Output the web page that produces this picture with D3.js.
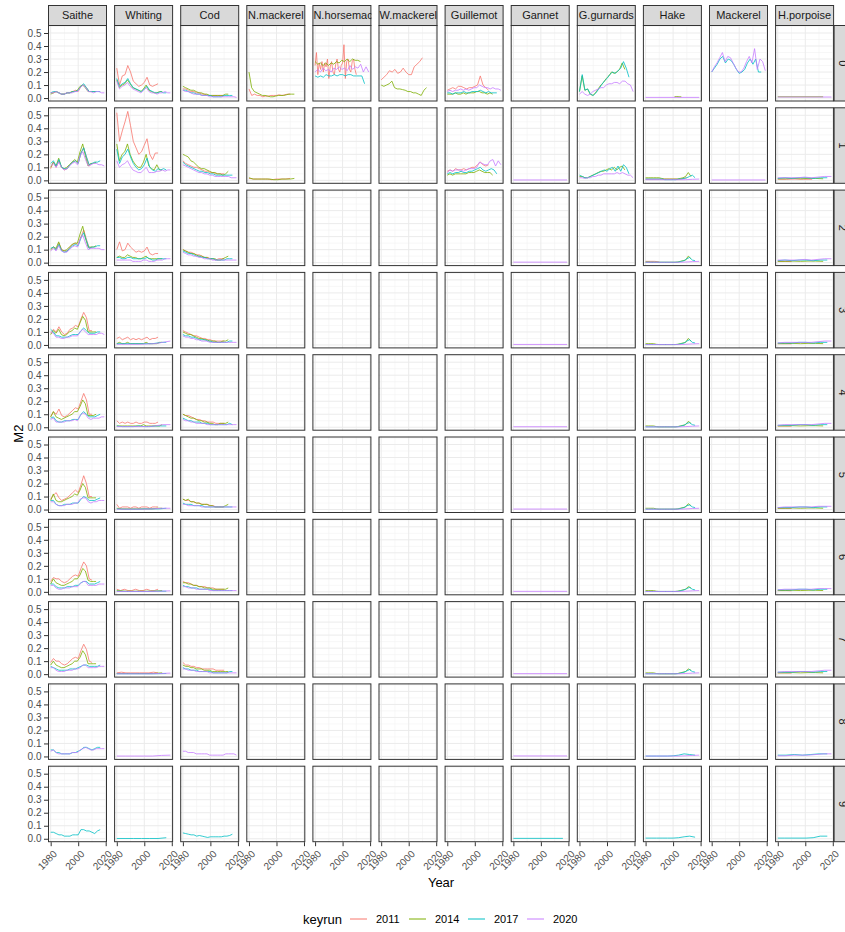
<!DOCTYPE html>
<html>
<head>
<meta charset="utf-8">
<script src="https://cdn.jsdelivr.net/npm/d3@7"></script>
<style>
  body { margin: 0; background: #fff; }
  svg { display: block; font-family: "Liberation Sans", Arial, sans-serif; }
</style>
</head>
<body>
<div id="chart"></div>
<script>
// Facet layout: predators across, prey ages down
const predators = ["Saithe", "Whiting", "Cod", "N.mackerel", "N.horsemackerel", "W.mackerel",
  "Guillemot", "Gannet", "G.gurnards", "Hake", "Mackerel", "H.porpoise"];
const ages = ["0", "1", "2", "3", "4", "5", "6", "7", "8", "9"];
const keyruns = ["2011", "2014", "2017", "2020"];
const runColors = ["#F8766D", "#7CAE00", "#00BFC4", "#C77CFF"];
const runLastYear = { 2011: 2010, 2014: 2013, 2017: 2016, 2020: 2019 };
const xTicks = [1980, 2000, 2020];
const xMinor = [1990, 2010];
const yTicks = [0, 0.1, 0.2, 0.3, 0.4, 0.5];
const yMinor = [0.05, 0.15, 0.25, 0.35, 0.45, 0.55];

// M2 series: [age, keyrun, values (evenly spaced from first to last year), first year?, last year?]
const saitheM2 = [
  [0, 2011, [0.04,0.04,0.05,0.04,0.03,0.03,0.04,0.04,0.05,0.06,0.05,0.09,0.10,0.08,0.05,0.05]],
  [0, 2014, [0.03,0.04,0.05,0.04,0.03,0.03,0.04,0.04,0.05,0.05,0.06,0.09,0.10,0.08,0.05,0.05,0.05,0.05]],
  [0, 2017, [0.04,0.05,0.05,0.04,0.03,0.03,0.04,0.04,0.05,0.05,0.06,0.09,0.11,0.08,0.05,0.05,0.05,0.05,0.05]],
  [0, 2020, [0.04,0.04,0.05,0.04,0.03,0.03,0.04,0.04,0.04,0.05,0.05,0.08,0.10,0.08,0.05,0.05,0.04,0.05,0.05,0.04,0.04]],
  [1, 2011, [0.09,0.14,0.10,0.15,0.10,0.08,0.09,0.12,0.14,0.15,0.13,0.21,0.25,0.18,0.11,0.13]],
  [1, 2014, [0.10,0.14,0.11,0.17,0.10,0.09,0.10,0.12,0.14,0.16,0.14,0.22,0.28,0.19,0.11,0.13,0.13,0.14]],
  [1, 2017, [0.13,0.15,0.11,0.16,0.10,0.09,0.09,0.12,0.14,0.15,0.13,0.21,0.25,0.18,0.12,0.13,0.14,0.14,0.15]],
  [1, 2020, [0.11,0.13,0.10,0.14,0.10,0.08,0.09,0.11,0.13,0.14,0.12,0.19,0.22,0.16,0.11,0.12,0.13,0.13,0.12,0.12,0.11]],
  [2, 2011, [0.10,0.12,0.10,0.15,0.10,0.09,0.09,0.12,0.14,0.15,0.14,0.20,0.25,0.18,0.11,0.12]],
  [2, 2014, [0.10,0.12,0.11,0.16,0.10,0.09,0.10,0.12,0.14,0.15,0.15,0.22,0.28,0.19,0.12,0.12,0.12,0.13]],
  [2, 2017, [0.11,0.12,0.10,0.14,0.09,0.08,0.09,0.11,0.13,0.14,0.13,0.19,0.23,0.17,0.11,0.12,0.12,0.13,0.13]],
  [2, 2020, [0.09,0.11,0.09,0.13,0.09,0.08,0.08,0.10,0.12,0.13,0.12,0.18,0.21,0.15,0.10,0.11,0.11,0.11,0.11,0.10,0.10]],
  [3, 2011, [0.09,0.12,0.10,0.14,0.10,0.08,0.09,0.12,0.13,0.15,0.14,0.20,0.25,0.21,0.11,0.11]],
  [3, 2014, [0.08,0.11,0.09,0.12,0.08,0.07,0.08,0.10,0.11,0.13,0.12,0.17,0.22,0.19,0.10,0.10,0.10,0.10]],
  [3, 2017, [0.12,0.10,0.07,0.07,0.06,0.06,0.06,0.07,0.08,0.08,0.08,0.11,0.13,0.11,0.09,0.09,0.09,0.10,0.10]],
  [3, 2020, [0.10,0.09,0.06,0.06,0.05,0.05,0.06,0.06,0.07,0.07,0.07,0.10,0.12,0.10,0.08,0.08,0.08,0.08,0.09,0.09,0.08]],
  [4, 2011, [0.08,0.12,0.10,0.14,0.09,0.08,0.09,0.11,0.13,0.15,0.14,0.20,0.26,0.21,0.10,0.10]],
  [4, 2014, [0.08,0.12,0.08,0.07,0.06,0.07,0.08,0.09,0.10,0.12,0.12,0.16,0.21,0.18,0.09,0.09,0.09,0.10]],
  [4, 2017, [0.07,0.08,0.05,0.04,0.04,0.05,0.05,0.05,0.06,0.06,0.06,0.10,0.12,0.10,0.08,0.08,0.08,0.09,0.10]],
  [4, 2020, [0.06,0.07,0.04,0.04,0.04,0.04,0.05,0.05,0.05,0.06,0.05,0.09,0.11,0.10,0.07,0.06,0.07,0.07,0.07,0.08,0.08]],
  [5, 2011, [0.08,0.11,0.13,0.09,0.07,0.08,0.09,0.11,0.13,0.15,0.13,0.19,0.26,0.20,0.10,0.10]],
  [5, 2014, [0.07,0.12,0.07,0.06,0.06,0.07,0.08,0.09,0.10,0.12,0.11,0.15,0.20,0.17,0.09,0.09,0.09,0.09]],
  [5, 2017, [0.07,0.07,0.04,0.03,0.03,0.04,0.04,0.04,0.05,0.05,0.05,0.08,0.10,0.09,0.07,0.07,0.07,0.08,0.09]],
  [5, 2020, [0.06,0.06,0.04,0.03,0.03,0.03,0.04,0.04,0.04,0.05,0.05,0.08,0.09,0.09,0.06,0.05,0.06,0.06,0.07,0.07,0.07]],
  [6, 2011, [0.08,0.11,0.10,0.10,0.08,0.07,0.08,0.10,0.12,0.13,0.12,0.18,0.23,0.20,0.10,0.09]],
  [6, 2014, [0.06,0.10,0.07,0.06,0.05,0.05,0.06,0.07,0.08,0.10,0.10,0.13,0.18,0.16,0.09,0.08,0.08,0.08]],
  [6, 2017, [0.06,0.06,0.04,0.03,0.03,0.03,0.04,0.04,0.04,0.05,0.05,0.07,0.08,0.08,0.06,0.06,0.06,0.07,0.08]],
  [6, 2020, [0.05,0.05,0.03,0.02,0.02,0.03,0.03,0.03,0.04,0.04,0.04,0.06,0.08,0.08,0.05,0.05,0.05,0.05,0.06,0.06,0.06]],
  [7, 2011, [0.09,0.12,0.10,0.10,0.08,0.07,0.08,0.10,0.12,0.13,0.12,0.18,0.23,0.19,0.10,0.09]],
  [7, 2014, [0.07,0.10,0.07,0.06,0.05,0.05,0.06,0.07,0.08,0.10,0.10,0.13,0.18,0.15,0.08,0.08,0.08,0.08]],
  [7, 2017, [0.06,0.05,0.04,0.03,0.03,0.03,0.03,0.04,0.04,0.04,0.05,0.06,0.07,0.07,0.06,0.06,0.06,0.06,0.07]],
  [7, 2020, [0.05,0.05,0.03,0.02,0.02,0.02,0.03,0.03,0.03,0.04,0.04,0.05,0.07,0.07,0.05,0.05,0.05,0.05,0.06,0.06,0.06]],
  [8, 2017, [0.05,0.05,0.03,0.03,0.02,0.02,0.02,0.02,0.03,0.03,0.04,0.05,0.07,0.07,0.06,0.05,0.06,0.07,0.07]],
  [8, 2020, [0.04,0.05,0.03,0.02,0.02,0.02,0.02,0.02,0.03,0.03,0.03,0.05,0.06,0.07,0.06,0.05,0.05,0.06,0.06,0.06,0.06]],
  [9, 2017, [0.05,0.05,0.04,0.03,0.03,0.02,0.02,0.02,0.03,0.03,0.03,0.07,0.07,0.06,0.06,0.05,0.04,0.06,0.07]]
];

const whitingM2 = [
  [0, 2011, [0.23,0.10,0.17,0.18,0.25,0.20,0.13,0.11,0.09,0.10,0.12,0.16,0.10,0.09,0.10,0.11]],
  [0, 2014, [0.14,0.08,0.10,0.11,0.14,0.11,0.08,0.07,0.06,0.05,0.07,0.10,0.06,0.05,0.04,0.04,0.05,0.05]],
  [0, 2017, [0.15,0.09,0.11,0.12,0.15,0.11,0.08,0.07,0.06,0.05,0.07,0.09,0.06,0.05,0.04,0.04,0.05,0.04,0.04]],
  [0, 2020, [0.13,0.07,0.09,0.10,0.12,0.09,0.07,0.06,0.05,0.04,0.06,0.08,0.05,0.04,0.04,0.03,0.04,0.04,0.05,0.04,0.04]],
  [1, 2011, [0.52,0.30,0.38,0.45,0.53,0.42,0.30,0.25,0.20,0.22,0.27,0.32,0.20,0.16,0.21,0.21]],
  [1, 2014, [0.28,0.15,0.20,0.22,0.28,0.20,0.15,0.12,0.10,0.10,0.14,0.20,0.11,0.09,0.08,0.12,0.08,0.08]],
  [1, 2017, [0.24,0.13,0.18,0.20,0.24,0.18,0.13,0.10,0.08,0.09,0.12,0.17,0.10,0.08,0.07,0.09,0.08,0.09,0.08]],
  [1, 2020, [0.15,0.10,0.12,0.13,0.15,0.11,0.08,0.07,0.06,0.06,0.08,0.10,0.06,0.06,0.06,0.07,0.07,0.08,0.07,0.08,0.08]],
  [2, 2011, [0.10,0.16,0.09,0.10,0.15,0.12,0.10,0.08,0.09,0.08,0.09,0.12,0.07,0.06,0.07,0.07]],
  [2, 2014, [0.04,0.05,0.04,0.04,0.06,0.05,0.04,0.04,0.03,0.03,0.04,0.05,0.03,0.03,0.03,0.03,0.03,0.03]],
  [2, 2017, [0.04,0.04,0.03,0.03,0.04,0.04,0.03,0.03,0.03,0.03,0.03,0.04,0.03,0.02,0.02,0.03,0.03,0.03,0.03]],
  [2, 2020, [0.02,0.02,0.02,0.02,0.02,0.02,0.01,0.01,0.01,0.01,0.02,0.02,0.01,0.01,0.01,0.02,0.02,0.02,0.03,0.03,0.03]],
  [3, 2011, [0.05,0.06,0.04,0.05,0.06,0.04,0.05,0.04,0.05,0.04,0.05,0.06,0.04,0.05,0.05,0.06]],
  [3, 2014, [0.01,0.02,0.01,0.01,0.02,0.01,0.01,0.01,0.01,0.01,0.01,0.02,0.01,0.01,0.01,0.01,0.02,0.02]],
  [3, 2017, [0.01,0.01,0.01,0.01,0.01,0.01,0.01,0.01,0.01,0.015,0.02,0.02]],
  [3, 2020, [0.005,0.005,0.005,0.005,0.008,0.01,0.02,0.03]],
  [4, 2011, [0.05,0.03,0.04,0.03,0.04,0.03,0.03,0.04,0.03,0.03,0.04,0.04,0.03,0.03,0.03,0.04]],
  [4, 2014, [0.01,0.01,0.01,0.01,0.01,0.01,0.01,0.01,0.01,0.01,0.02,0.01,0.01,0.01,0.01,0.01,0.01,0.02]],
  [4, 2017, [0.01,0.005,0.005,0.005,0.01,0.005,0.005,0.01,0.01,0.01]],
  [4, 2020, [0.005,0.005,0.005,0.005,0.005,0.01,0.02,0.02]],
  [5, 2011, [0.04,0.01,0.02,0.02,0.02,0.01,0.02,0.02,0.01,0.02,0.02,0.02,0.01,0.02,0.02,0.02]],
  [5, 2014, [0.01,0.005,0.005,0.005,0.005,0.005,0.005,0.005,0.01,0.01]],
  [5, 2017, [0.005,0.003,0.003,0.003,0.005,0.005,0.005,0.01]],
  [5, 2020, [0.003,0.003,0.003,0.003,0.005,0.01,0.01]],
  [6, 2011, [0.02,0.01,0.02,0.01,0.01,0.02,0.01,0.01,0.02,0.01,0.01,0.02]],
  [6, 2014, [0.01,0.005,0.005,0.005,0.005,0.01]],
  [6, 2017, [0.005,0.003,0.003,0.003,0.005,0.005]],
  [6, 2020, [0.003,0.003,0.003,0.003,0.005,0.008]],
  [7, 2011, [0.01,0.015,0.01,0.01,0.01,0.01,0.01,0.01,0.015,0.01]],
  [7, 2014, [0.005,0.005,0.005,0.005,0.005,0.01]],
  [7, 2017, [0.003,0.003,0.003,0.003,0.005]],
  [7, 2020, [0.003,0.003,0.003,0.003,0.005,0.008]],
  [8, 2020, [0.003,0.003,0.003,0.003,0.003,0.008,0.01]],
  [9, 2017, [0.002,0.002,0.002,0.002,0.002,0.002,0.008]]
];

const codM2 = [
  [0, 2011, [0.07,0.07,0.06,0.05,0.05,0.04,0.04,0.03,0.03,0.02,0.02,0.02,0.02,0.02,0.02,0.02]],
  [0, 2014, [0.09,0.08,0.07,0.06,0.06,0.05,0.04,0.04,0.03,0.03,0.02,0.02,0.02,0.02,0.02,0.02,0.03,0.03]],
  [0, 2017, [0.06,0.06,0.05,0.04,0.04,0.03,0.03,0.02,0.02,0.02,0.02,0.01,0.01,0.01,0.01,0.02,0.02,0.02,0.02]],
  [0, 2020, [0.06,0.05,0.05,0.04,0.03,0.03,0.03,0.02,0.02,0.02,0.01,0.01,0.01,0.01,0.01,0.01,0.01,0.01,0.01,0.01,0.005]],
  [1, 2011, [0.15,0.13,0.12,0.11,0.10,0.10,0.09,0.08,0.07,0.07,0.06,0.06,0.05,0.05,0.05,0.05]],
  [1, 2014, [0.20,0.19,0.18,0.15,0.14,0.12,0.10,0.09,0.09,0.08,0.07,0.06,0.06,0.05,0.05,0.04,0.05,0.07]],
  [1, 2017, [0.14,0.12,0.11,0.10,0.09,0.08,0.07,0.07,0.06,0.06,0.05,0.05,0.04,0.04,0.04,0.04,0.04,0.04,0.04]],
  [1, 2020, [0.12,0.11,0.10,0.09,0.08,0.07,0.06,0.06,0.05,0.05,0.04,0.04,0.03,0.03,0.03,0.03,0.03,0.03,0.02,0.02,0.02]],
  [2, 2011, [0.10,0.09,0.08,0.08,0.07,0.06,0.06,0.05,0.04,0.04,0.03,0.03,0.02,0.03,0.03,0.03]],
  [2, 2014, [0.10,0.09,0.08,0.07,0.07,0.06,0.05,0.05,0.04,0.04,0.03,0.03,0.03,0.02,0.02,0.03,0.04,0.05]],
  [2, 2017, [0.09,0.08,0.07,0.07,0.06,0.05,0.05,0.04,0.04,0.03,0.03,0.03,0.02,0.02,0.02,0.02,0.03,0.03,0.03]],
  [2, 2020, [0.08,0.07,0.06,0.06,0.05,0.05,0.04,0.04,0.03,0.03,0.03,0.02,0.02,0.02,0.02,0.02,0.02,0.02,0.02,0.02,0.02]],
  [3, 2011, [0.11,0.10,0.09,0.08,0.07,0.07,0.06,0.05,0.05,0.04,0.04,0.03,0.03,0.03,0.03,0.03]],
  [3, 2014, [0.10,0.09,0.08,0.08,0.07,0.06,0.05,0.05,0.04,0.04,0.03,0.03,0.03,0.02,0.02,0.03,0.03,0.04]],
  [3, 2017, [0.08,0.07,0.07,0.06,0.06,0.05,0.04,0.04,0.04,0.03,0.03,0.02,0.02,0.02,0.02,0.02,0.02,0.03,0.03]],
  [3, 2020, [0.07,0.06,0.06,0.05,0.05,0.04,0.04,0.03,0.03,0.03,0.02,0.02,0.02,0.02,0.02,0.02,0.02,0.02,0.02,0.02,0.02]],
  [4, 2011, [0.10,0.09,0.09,0.08,0.07,0.06,0.06,0.05,0.05,0.04,0.04,0.04,0.03,0.03,0.03,0.03]],
  [4, 2014, [0.10,0.09,0.08,0.07,0.07,0.06,0.05,0.05,0.04,0.04,0.03,0.03,0.02,0.02,0.03,0.03,0.03,0.04]],
  [4, 2017, [0.07,0.06,0.05,0.05,0.04,0.04,0.04,0.03,0.03,0.03,0.02,0.02,0.02,0.02,0.02,0.02,0.02,0.03,0.02]],
  [4, 2020, [0.06,0.05,0.05,0.04,0.04,0.03,0.03,0.03,0.03,0.02,0.02,0.02,0.02,0.02,0.02,0.02,0.02,0.02,0.02,0.02,0.02]],
  [5, 2011, [0.08,0.07,0.07,0.06,0.06,0.05,0.05,0.04,0.04,0.04,0.03,0.03,0.02,0.02,0.02,0.02]],
  [5, 2014, [0.08,0.07,0.08,0.06,0.06,0.05,0.05,0.04,0.04,0.04,0.03,0.03,0.02,0.02,0.02,0.02,0.03,0.04]],
  [5, 2017, [0.05,0.04,0.04,0.04,0.03,0.03,0.03,0.03,0.02,0.02,0.02,0.02,0.02,0.02,0.02,0.02,0.02,0.02,0.02]],
  [5, 2020, [0.04,0.04,0.03,0.03,0.03,0.03,0.03,0.02,0.02,0.02,0.02,0.02,0.02,0.02,0.02,0.02,0.02,0.02,0.02,0.02,0.02]],
  [6, 2011, [0.08,0.07,0.07,0.06,0.05,0.05,0.04,0.04,0.04,0.03,0.03,0.03,0.02,0.02,0.02,0.02]],
  [6, 2014, [0.07,0.07,0.06,0.06,0.05,0.05,0.04,0.04,0.03,0.03,0.03,0.02,0.02,0.02,0.02,0.02,0.02,0.03]],
  [6, 2017, [0.05,0.04,0.04,0.03,0.03,0.03,0.02,0.02,0.02,0.02,0.02,0.01,0.01,0.01,0.01,0.01,0.01,0.01,0.01]],
  [6, 2020, [0.04,0.04,0.03,0.03,0.03,0.02,0.02,0.02,0.02,0.02,0.01,0.01,0.01,0.01,0.01,0.01,0.01,0.01,0.01,0.01,0.01]],
  [7, 2011, [0.09,0.07,0.07,0.06,0.06,0.05,0.05,0.04,0.04,0.04,0.04,0.04,0.03,0.03,0.03,0.03]],
  [7, 2014, [0.07,0.06,0.06,0.05,0.05,0.04,0.04,0.04,0.03,0.03,0.03,0.02,0.02,0.02,0.02,0.02,0.02,0.02]],
  [7, 2017, [0.05,0.04,0.04,0.03,0.03,0.03,0.02,0.02,0.02,0.02,0.02,0.01,0.01,0.01,0.01,0.01,0.01,0.02,0.02]],
  [7, 2020, [0.04,0.04,0.03,0.03,0.03,0.02,0.02,0.02,0.02,0.02,0.01,0.01,0.01,0.01,0.01,0.01,0.01,0.01,0.01,0.01,0.01]],
  [8, 2020, [0.04,0.04,0.03,0.03,0.03,0.02,0.02,0.02,0.02,0.02,0.01,0.01,0.01,0.01,0.01,0.01,0.02,0.02,0.02,0.02,0.01]],
  [9, 2017, [0.045,0.04,0.035,0.03,0.03,0.02,0.025,0.02,0.015,0.01,0.015,0.015,0.015,0.015,0.015,0.02,0.02,0.025,0.035]]
];

const nMackerelM2 = [
  [0, 2011, [0.07,0.02,0.03,0.02,0.02,0.01,0.015,0.015,0.02,0.02,0.02,0.025,0.02,0.025,0.03,0.03]],
  [0, 2014, [0.20,0.08,0.05,0.04,0.03,0.02,0.02,0.015,0.01,0.01,0.015,0.02,0.02,0.02,0.025,0.03,0.03,0.03]],
  [1, 2011, [0.015,0.01,0.01,0.01,0.01,0.005,0.01,0.01,0.01,0.015]],
  [1, 2014, [0.02,0.01,0.01,0.01,0.01,0.01,0.005,0.005,0.01,0.01,0.01,0.015]]
];

const nHorseMackerelM2 = [
  [0, 2011, [0.25,0.35,0.18,0.27,0.22,0.28,0.20,0.27,0.24,0.30,0.15,0.24,0.28,0.20,0.18,0.26,
             0.30,0.22,0.20,0.25,0.27,0.41,0.15,0.28,0.30,0.22,0.20,0.28,0.30,0.22,0.18]],
  [0, 2014, [0.28,0.26,0.27,0.25,0.27,0.25,0.27,0.26,0.28,0.27,0.29,0.28,0.30,0.28,0.30,0.29,0.29,0.28]],
  [0, 2017, [0.17,0.16,0.17,0.16,0.18,0.17,0.17,0.18,0.17,0.18,0.18,0.17,0.18,0.18,0.17,0.17,0.17,0.17,0.11]],
  [0, 2020, [0.20,0.22,0.20,0.23,0.21,0.22,0.20,0.23,0.22,0.24,0.22,0.23,0.21,0.25,0.22,0.24,0.23,0.26,0.20,0.24,0.20]]
];

const wMackerelM2 = [
  [0, 2011, [0.14,0.16,0.18,0.21,0.20,0.22,0.19,0.20,0.23,0.20,0.18,0.18,0.24,0.26,0.28,0.31]],
  [0, 2014, [0.10,0.09,0.10,0.11,0.13,0.08,0.07,0.07,0.065,0.06,0.05,0.05,0.04,0.04,0.03,0.02,0.06,0.08]]
];

const guillemotM2 = [
  [0, 2011, [0.06,0.07,0.08,0.07,0.09,0.09,0.08,0.07,0.08,0.08,0.09,0.10,0.17,0.10,0.08,0.06]],
  [0, 2014, [0.03,0.03,0.03,0.04,0.03,0.03,0.04,0.03,0.04,0.04,0.04,0.05,0.05,0.04,0.04,0.03,0.04,0.03]],
  [0, 2017, [0.04,0.04,0.03,0.04,0.04,0.04,0.05,0.04,0.04,0.05,0.05,0.05,0.06,0.05,0.04,0.05,0.04,0.04,0.04]],
  [0, 2020, [0.05,0.06,0.05,0.06,0.06,0.07,0.06,0.07,0.06,0.07,0.08,0.08,0.10,0.09,0.08,0.08,0.07,0.08,0.07,0.07,0.06]],
  [1, 2011, [0.07,0.08,0.07,0.09,0.08,0.08,0.09,0.08,0.09,0.10,0.10,0.12,0.14,0.12,0.11,0.12]],
  [1, 2014, [0.04,0.05,0.04,0.05,0.05,0.05,0.05,0.05,0.06,0.06,0.06,0.07,0.08,0.07,0.06,0.06,0.06,0.04]],
  [1, 2017, [0.05,0.06,0.05,0.06,0.06,0.07,0.06,0.06,0.07,0.07,0.08,0.09,0.10,0.08,0.07,0.08,0.09,0.08,0.05]],
  [1, 2020, [0.06,0.08,0.07,0.08,0.08,0.08,0.07,0.08,0.09,0.09,0.09,0.10,0.14,0.13,0.12,0.12,0.15,0.16,0.11,0.15,0.12]]
];

const gannetM2 = [
  [1, 2020, [0.003,0.003]], [2, 2020, [0.004,0.004]], [3, 2020, [0.004,0.004]],
  [4, 2020, [0.004,0.004]], [5, 2020, [0.004,0.004]], [6, 2020, [0.004,0.004]],
  [7, 2020, [0.004,0.004]], [8, 2020, [0.004,0.004]], [9, 2017, [0.003,0.003]]
];

const gurnardsM2 = [
  [0, 2014, [0.05,0.17,0.06,0.07,0.03,0.02,0.04,0.07,0.10,0.12,0.15,0.17,0.20,0.19,0.20,0.22,0.27,0.22]],
  [0, 2017, [0.05,0.18,0.06,0.07,0.03,0.02,0.04,0.07,0.10,0.13,0.15,0.18,0.20,0.19,0.21,0.23,0.28,0.23,0.16]],
  [0, 2020, [0.03,0.05,0.03,0.02,0.03,0.05,0.06,0.07,0.08,0.08,0.10,0.11,0.11,0.12,0.12,0.11,0.13,0.13,0.11,0.10,0.05]],
  [1, 2014, [0.03,0.03,0.02,0.02,0.03,0.04,0.05,0.06,0.07,0.07,0.08,0.09,0.08,0.10,0.08,0.10,0.11,0.08]],
  [1, 2017, [0.04,0.03,0.02,0.02,0.03,0.04,0.05,0.06,0.07,0.08,0.07,0.09,0.10,0.07,0.11,0.07,0.12,0.10,0.05]],
  [1, 2020, [0.02,0.02,0.015,0.02,0.02,0.03,0.03,0.04,0.04,0.05,0.05,0.05,0.05,0.05,0.06,0.05,0.06,0.05,0.04,0.04,0.02]]
];

const hakeM2 = [
  [0, 2014, [0.01,0.012,0.01,0.01], 2001, 2006],
  [0, 2020, [0.005,0.005]],
  [1, 2011, [0.01,0.01,0.01,0.01,0.01,0.01,0.02]],
  [1, 2014, [0.02,0.02,0.02,0.02,0.02,0.02,0.015,0.01,0.01,0.01,0.01,0.01,0.01,0.015,0.02,0.03,0.06,0.03]],
  [1, 2017, [0.01,0.01,0.01,0.01,0.01,0.01,0.01,0.005,0.005,0.005,0.005,0.005,0.01,0.01,0.015,0.02,0.03,0.04,0.02]],
  [1, 2020, [0.005,0.005,0.005,0.005,0.005,0.005,0.005,0.008,0.01]],
  [2, 2011, [0.01,0.01,0.01,0.005], 1980, 1990],
  [2, 2014, [0.005,0.005,0.003,0.003,0.003,0.003,0.003,0.003,0.003,0.003,0.003,0.003,0.005,0.01,0.015,0.02,0.05,0.03]],
  [2, 2017, [0.003,0.003,0.003,0.003,0.003,0.003,0.003,0.003,0.003,0.003,0.003,0.003,0.005,0.01,0.015,0.03,0.04,0.02,0.015]],
  [2, 2020, [0.003,0.003,0.003,0.003,0.003,0.003,0.005,0.008,0.01]],
  [3, 2014, [0.01,0.01,0.01,0.01,0.005,0.003,0.003,0.003,0.003,0.003,0.003,0.003,0.005,0.01,0.015,0.02,0.05,0.03]],
  [3, 2017, [0.003,0.003,0.003,0.003,0.003,0.003,0.003,0.003,0.003,0.003,0.003,0.003,0.005,0.01,0.015,0.03,0.04,0.02,0.015]],
  [3, 2020, [0.003,0.003,0.003,0.003,0.003,0.003,0.005,0.008,0.01]],
  [4, 2014, [0.01,0.01,0.01,0.01,0.005,0.003,0.003,0.003,0.003,0.003,0.003,0.003,0.005,0.01,0.015,0.02,0.045,0.03]],
  [4, 2017, [0.003,0.003,0.003,0.003,0.003,0.003,0.003,0.003,0.003,0.003,0.003,0.003,0.005,0.01,0.015,0.03,0.035,0.02,0.015]],
  [4, 2020, [0.003,0.003,0.003,0.003,0.003,0.003,0.005,0.008,0.01]],
  [5, 2014, [0.01,0.01,0.01,0.01,0.005,0.003,0.003,0.003,0.003,0.003,0.003,0.003,0.005,0.01,0.015,0.02,0.045,0.03]],
  [5, 2017, [0.003,0.003,0.003,0.003,0.003,0.003,0.003,0.003,0.003,0.003,0.003,0.003,0.005,0.01,0.015,0.03,0.035,0.02,0.015]],
  [5, 2020, [0.003,0.003,0.003,0.003,0.003,0.003,0.005,0.008,0.01]],
  [6, 2014, [0.01,0.01,0.01,0.01,0.005,0.003,0.003,0.003,0.003,0.003,0.003,0.003,0.005,0.01,0.015,0.02,0.04,0.03]],
  [6, 2017, [0.003,0.003,0.003,0.003,0.003,0.003,0.003,0.003,0.003,0.003,0.003,0.003,0.005,0.01,0.015,0.025,0.035,0.02,0.015]],
  [6, 2020, [0.003,0.003,0.003,0.003,0.003,0.003,0.005,0.008,0.01]],
  [7, 2014, [0.01,0.01,0.01,0.01,0.005,0.003,0.003,0.003,0.003,0.003,0.003,0.003,0.005,0.01,0.015,0.02,0.04,0.03]],
  [7, 2017, [0.003,0.003,0.003,0.003,0.003,0.003,0.003,0.003,0.003,0.003,0.003,0.003,0.005,0.01,0.015,0.025,0.035,0.02,0.015]],
  [7, 2020, [0.003,0.003,0.003,0.003,0.003,0.003,0.005,0.008,0.01]],
  [8, 2017, [0.003,0.003,0.003,0.003,0.003,0.005,0.01,0.02,0.015,0.01]],
  [8, 2020, [0.003,0.003,0.003,0.003,0.003,0.003,0.005,0.008,0.01]],
  [9, 2017, [0.005,0.005,0.005,0.005,0.005,0.005,0.008,0.015,0.02,0.012]]
];

const mackerelM2 = [
  [0, 2017, [0.20,0.23,0.26,0.30,0.32,0.27,0.30,0.29,0.26,0.22,0.19,0.20,0.22,0.27,0.30,0.26,0.30,0.20,0.20]],
  [0, 2020, [0.20,0.24,0.27,0.31,0.35,0.28,0.32,0.31,0.27,0.23,0.20,0.20,0.23,0.28,0.32,0.27,0.38,0.22,0.30,0.28,0.21]],
  [1, 2020, [0.003,0.003]]
];

const porpoiseM2 = [
  [0, 2014, [0.01,0.01]],
  [0, 2020, [0.008,0.008]],
  [1, 2011, [0.008,0.008,0.01,0.008,0.008], 1980, 2005],
  [1, 2014, [0.012,0.012,0.015,0.012,0.015,0.015,0.012]],
  [1, 2017, [0.015,0.02,0.015,0.02,0.02,0.015,0.02,0.02]],
  [1, 2020, [0.02,0.02,0.02,0.02,0.025,0.02,0.025,0.03,0.03]],
  [2, 2011, [0.01,0.01,0.008], 1980, 1990],
  [2, 2014, [0.01,0.01,0.012,0.01,0.012,0.012,0.01]],
  [2, 2017, [0.015,0.02,0.015,0.02,0.02,0.015,0.02,0.02]],
  [2, 2020, [0.02,0.02,0.02,0.02,0.025,0.02,0.025,0.03,0.03]],
  [3, 2011, [0.01,0.01,0.008], 1980, 1990],
  [3, 2014, [0.01,0.01,0.012,0.01,0.012,0.012,0.01]],
  [3, 2017, [0.015,0.015,0.015,0.02,0.02,0.015,0.02,0.02]],
  [3, 2020, [0.015,0.02,0.02,0.02,0.02,0.02,0.025,0.03,0.03]],
  [4, 2011, [0.01,0.01,0.008], 1980, 1990],
  [4, 2014, [0.01,0.01,0.012,0.01,0.012,0.012,0.01]],
  [4, 2017, [0.015,0.015,0.015,0.02,0.02,0.015,0.02,0.02]],
  [4, 2020, [0.015,0.02,0.02,0.02,0.02,0.02,0.025,0.03,0.03]],
  [5, 2011, [0.01,0.01,0.008], 1980, 1990],
  [5, 2014, [0.01,0.01,0.012,0.01,0.012,0.012,0.01]],
  [5, 2017, [0.015,0.015,0.015,0.02,0.02,0.015,0.02,0.02]],
  [5, 2020, [0.015,0.02,0.02,0.02,0.02,0.02,0.025,0.025,0.025]],
  [6, 2011, [0.01,0.01,0.008], 1980, 1990],
  [6, 2014, [0.01,0.01,0.012,0.01,0.012,0.012,0.01]],
  [6, 2017, [0.015,0.015,0.015,0.02,0.02,0.015,0.02,0.02]],
  [6, 2020, [0.015,0.02,0.02,0.02,0.02,0.02,0.025,0.025,0.025]],
  [7, 2011, [0.01,0.01,0.008], 1980, 1990],
  [7, 2014, [0.01,0.01,0.012,0.01,0.012,0.012,0.01]],
  [7, 2017, [0.015,0.015,0.015,0.02,0.02,0.015,0.02,0.02]],
  [7, 2020, [0.015,0.02,0.02,0.02,0.02,0.02,0.025,0.03,0.03]],
  [8, 2017, [0.01,0.01,0.015,0.01,0.015,0.02,0.02]],
  [8, 2020, [0.005,0.005,0.01,0.01,0.01,0.015,0.02,0.02]],
  [9, 2017, [0.005,0.005,0.005,0.005,0.005,0.008,0.02,0.02]]
];

// one series table per predator, same order as predators
const predatorSeries = [saitheM2, whitingM2, codM2, nMackerelM2, nHorseMackerelM2, wMackerelM2,
  guillemotM2, gannetM2, gurnardsM2, hakeM2, mackerelM2, porpoiseM2];

// ---- layout ----
const width = 845, height = 932;
const gridLeft = 48, gridTop = 25;
const panelW = 59, panelH = 76.5;
const colStep = 66.1, rowStep = 82.3;
const stripH = 20, sideStripW = 20;

const svg = d3.select("#chart").append("svg").attr("width", width).attr("height", height);
svg.append("rect").attr("width", width).attr("height", height).attr("fill", "#fff");

const x = d3.scaleLinear().domain([1978.05, 2020.95]).range([0, panelW]);
const y = d3.scaleLinear().domain([-0.0265, 0.5615]).range([panelH, 0]);
const color = d3.scaleOrdinal().domain(keyruns).range(runColors);
const line = d3.line().x((d) => x(d[0])).y((d) => y(d[1]));

function toPoints(s) {
  const [, run, values, from = 1980, to = runLastYear[run]] = s;
  const step = values.length > 1 ? (to - from) / (values.length - 1) : 0;
  return values.map((v, i) => [from + i * step, v]);
}

const panels = svg.append("g");

ages.forEach((age, r) => {
  predators.forEach((pred, c) => {
    const g = panels.append("g")
      .attr("transform", `translate(${gridLeft + c * colStep},${gridTop + r * rowStep})`);

    g.append("rect").attr("width", panelW).attr("height", panelH).attr("fill", "#fff");

    // grid
    g.selectAll(".gxm").data(xMinor).join("line")
      .attr("x1", (d) => x(d)).attr("x2", (d) => x(d)).attr("y1", 0).attr("y2", panelH)
      .attr("stroke", "#F2F2F2").attr("stroke-width", 0.6);
    g.selectAll(".gym").data(yMinor).join("line")
      .attr("x1", 0).attr("x2", panelW).attr("y1", (d) => y(d)).attr("y2", (d) => y(d))
      .attr("stroke", "#F2F2F2").attr("stroke-width", 0.6);
    g.selectAll(".gx").data(xTicks).join("line")
      .attr("x1", (d) => x(d)).attr("x2", (d) => x(d)).attr("y1", 0).attr("y2", panelH)
      .attr("stroke", "#EBEBEB").attr("stroke-width", 1);
    g.selectAll(".gy").data(yTicks).join("line")
      .attr("x1", 0).attr("x2", panelW).attr("y1", (d) => y(d)).attr("y2", (d) => y(d))
      .attr("stroke", "#EBEBEB").attr("stroke-width", 1);

    // series for this predator / age, drawn in keyrun order
    const rows = predatorSeries[c]
      .filter((s) => String(s[0]) === age)
      .sort((a, b) => keyruns.indexOf(String(a[1])) - keyruns.indexOf(String(b[1])));
    g.selectAll(".series").data(rows).join("path")
      .attr("d", (s) => line(toPoints(s)))
      .attr("fill", "none")
      .attr("stroke", (s) => color(String(s[1])))
      .attr("stroke-width", 0.8)
      .attr("stroke-linejoin", "round");

    g.append("rect").attr("x", 0.5).attr("y", 0.5)
      .attr("width", panelW - 1).attr("height", panelH - 1)
      .attr("fill", "none").attr("stroke", "#333").attr("stroke-width", 1);

    // y axis on the first column
    if (c === 0) {
      const ax = g.append("g").call(d3.axisLeft(y).tickValues(yTicks).tickSize(4).tickFormat(d3.format(".1f")));
      ax.select(".domain").remove();
      ax.selectAll("line").attr("stroke", "#333");
      ax.selectAll("text").attr("fill", "#4D4D4D").style("font-size", "10px").attr("x", -6.5);
    }
    // x axis on the last row
    if (r === ages.length - 1) {
      const ax = g.append("g").attr("transform", `translate(0,${panelH})`)
        .call(d3.axisBottom(x).tickValues(xTicks).tickSize(4).tickFormat(d3.format("d")));
      ax.select(".domain").remove();
      ax.selectAll("line").attr("stroke", "#333");
      ax.selectAll("text")
        .attr("fill", "#4D4D4D").style("font-size", "10px")
        .attr("text-anchor", "end")
        .attr("x", 0).attr("y", 0).attr("dy", "0.35em")
        .attr("transform", "translate(4,10) rotate(-45)");
    }
  });
});

// top strips
const defs = svg.append("defs");
predators.forEach((pred, c) => {
  const sx = gridLeft + c * colStep;
  const sy = gridTop - stripH;
  defs.append("clipPath").attr("id", "strip" + c)
    .append("rect").attr("x", sx).attr("y", sy).attr("width", panelW).attr("height", stripH);
  svg.append("rect").attr("x", sx + 0.5).attr("y", sy + 0.5)
    .attr("width", panelW - 1).attr("height", stripH)
    .attr("fill", "#D9D9D9").attr("stroke", "#333").attr("stroke-width", 1);
  const t = svg.append("text")
    .attr("clip-path", `url(#strip${c})`)
    .attr("x", sx + panelW / 2).attr("y", sy + stripH / 2).attr("dy", "0.35em")
    .attr("text-anchor", "middle").attr("fill", "#1A1A1A").style("font-size", "11px")
    .text(pred);
  if (t.node().getComputedTextLength() > panelW - 2) {
    t.attr("x", sx + 1).attr("text-anchor", "start");
  }
});

// right strips
ages.forEach((age, r) => {
  const sx = gridLeft + 11 * colStep + panelW;
  const sy = gridTop + r * rowStep;
  svg.append("rect").attr("x", sx).attr("y", sy + 0.5)
    .attr("width", sideStripW).attr("height", panelH - 1)
    .attr("fill", "#D9D9D9").attr("stroke", "#333").attr("stroke-width", 1);
  svg.append("text")
    .attr("transform", `translate(${sx + sideStripW / 2 - 1},${sy + panelH / 2}) rotate(90)`)
    .attr("text-anchor", "middle").attr("dy", "0.35em")
    .attr("fill", "#1A1A1A").style("font-size", "11px")
    .text(age);
});

// axis titles
const plotRight = gridLeft + 11 * colStep + panelW;
svg.append("text")
  .attr("x", (gridLeft + plotRight) / 2).attr("y", 887)
  .attr("text-anchor", "middle").style("font-size", "13px").attr("fill", "#000")
  .text("Year");
svg.append("text")
  .attr("transform", `translate(18,${gridTop + (9 * rowStep + panelH) / 2}) rotate(-90)`)
  .attr("text-anchor", "middle").attr("dy", "0.35em")
  .style("font-size", "13px").attr("fill", "#000")
  .text("M2");

// legend
const legend = svg.append("g").attr("transform", "translate(303,919)");
legend.append("text").attr("x", 0).attr("dy", "0.35em").style("font-size", "13px").text("keyrun");
keyruns.forEach((k, i) => {
  const lx = 47 + i * 59;
  legend.append("line").attr("x1", lx).attr("x2", lx + 17).attr("y1", 0).attr("y2", 0)
    .attr("stroke", color(k)).attr("stroke-width", 1);
  legend.append("text").attr("x", lx + 26).attr("dy", "0.35em")
    .style("font-size", "11px").attr("fill", "#000").text(k);
});
</script>
</body>
</html>
